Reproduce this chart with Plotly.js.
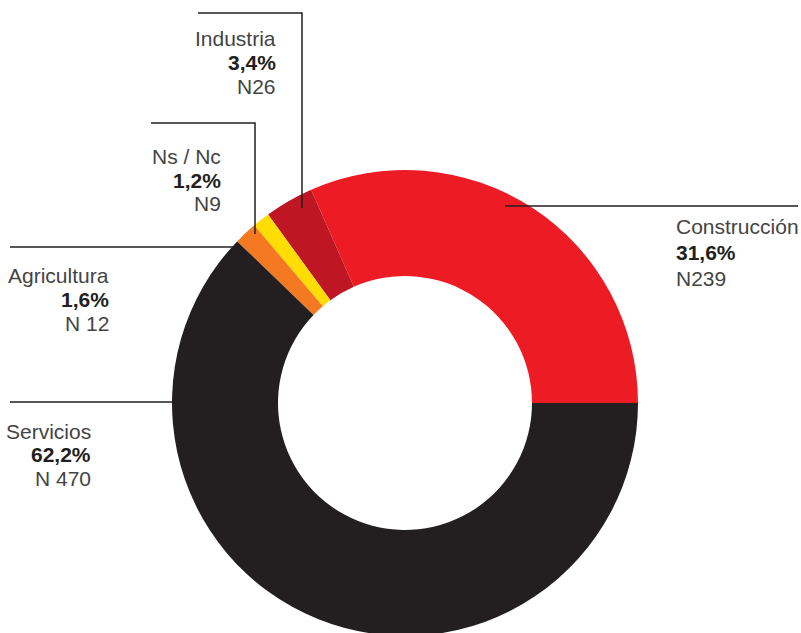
<!DOCTYPE html>
<html>
<head>
<meta charset="utf-8">
<script src="https://cdn.plot.ly/plotly-3.0.1.min.js"></script>
<style>
  html, body { margin: 0; padding: 0; background: #fff; overflow: hidden; }
  #myDiv { width: 801px; height: 636px; }
</style>
</head>
<body>
<div id="myDiv"></div>
<script>
// sector data
const sectors = ['Construcción', 'Industria', 'Ns / Nc', 'Agricultura', 'Servicios'];
const shares = [31.6, 3.4, 1.2, 1.6, 62.2];
const counts = ['N239', 'N26', 'N9', 'N 12', 'N 470'];
const colors = ['#ED1C24', '#BE1622', '#FFDD00', '#F47920', '#231F20'];

// the ring runs a few pixels past the bottom of the window, so the plot is a bit taller
const W = 801, H = 636;
const px = x => x / W;
const py = y => 1 - y / H;

// label placement in pixels: anchor x, alignment, baselines of the 3 lines
const labelPos = [
  { x: 674, anchor: 'left',  base: [234, 260, 286] },
  { x: 278, anchor: 'right', base: [46, 70, 94] },
  { x: 223, anchor: 'right', base: [164, 188, 211] },
  { x: 111, anchor: 'right', base: [283, 307, 331] },
  { x: 93,  anchor: 'right', base: [439, 462, 486] }
];

// leader lines (pixel polylines)
const leaders = [
  [[505, 206], [798, 206]],
  [[198, 13], [302, 13], [302, 208]],
  [[151, 123], [255, 123], [255, 234]],
  [[10, 247], [237, 247]],
  [[10, 402], [174, 402]]
];

// first slice (Construcción) runs counterclockwise from 3 o'clock;
// plotly puts the counterclockwise end of the first slice at `rotation`
const rot = 90 - shares[0] / shares.reduce((a, b) => a + b, 0) * 360;

const trace = {
  type: 'pie',
  labels: sectors,
  values: shares,
  sort: false,
  direction: 'counterclockwise',
  rotation: rot,
  hole: 0.545,
  marker: { colors: colors, line: { width: 0 } },
  textinfo: 'none',
  hoverinfo: 'skip',
  showlegend: false,
  domain: { x: [px(172), px(638)], y: [0, 466 / H] }
};

const annotations = [];
const fs = 21;
sectors.forEach((name, i) => {
  const p = labelPos[i];
  const lines = [
    { text: name, color: '#444' },
    { text: '<b>' + shares[i].toFixed(1).replace('.', ',') + '%</b>', color: '#231F20' },
    { text: counts[i], color: '#444' }
  ];
  lines.forEach((ln, j) => {
    annotations.push({
      xref: 'paper', yref: 'paper',
      x: px(p.x), y: py(p.base[j] - 7.5),
      xanchor: p.anchor, yanchor: 'middle',
      text: ln.text, showarrow: false,
      font: { family: 'Liberation Sans, Arial, sans-serif', size: fs, color: ln.color }
    });
  });
});

const shapes = leaders.map(pts => ({
  type: 'path',
  xref: 'paper', yref: 'paper',
  path: pts.map((pt, k) => (k ? 'L' : 'M') + px(pt[0]) + ',' + py(pt[1])).join(' '),
  line: { color: '#231F20', width: 1.5 }
}));

const layout = {
  width: W, height: H,
  margin: { l: 0, r: 0, t: 0, b: 0 },
  paper_bgcolor: '#fff',
  plot_bgcolor: '#fff',
  showlegend: false,
  annotations: annotations,
  shapes: shapes
};

Plotly.newPlot('myDiv', [trace], layout, { staticPlot: true });
</script>
</body>
</html>
